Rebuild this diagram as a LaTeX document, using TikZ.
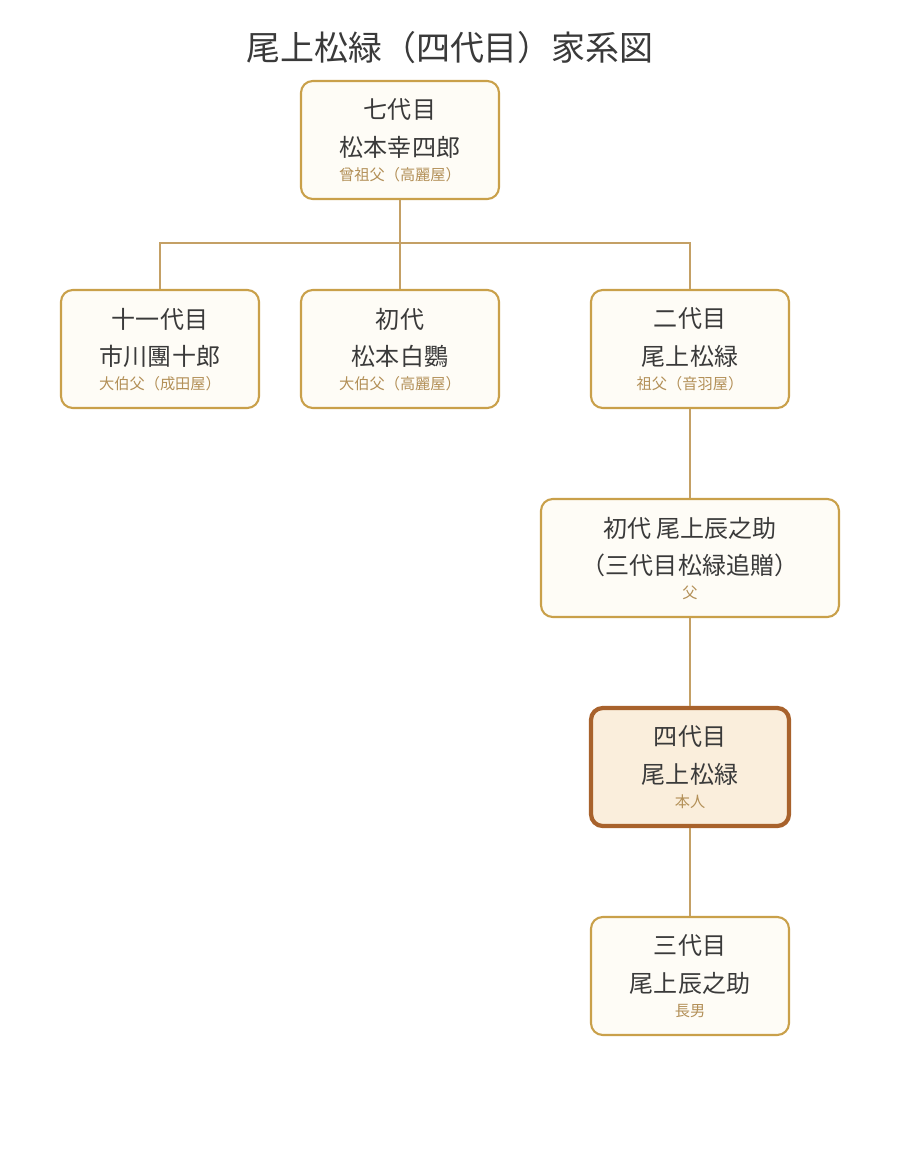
\documentclass[tikz,border=0pt]{standalone}
\usepackage{fontspec}
\setmainfont{Noto Sans CJK JP}
\definecolor{rim}{HTML}{C9A04A}
\definecolor{wire}{HTML}{C4A065}
\definecolor{pale}{HTML}{FEFCF6}
\definecolor{subtext}{HTML}{B39058}
\definecolor{ink}{HTML}{3A3A3A}
\definecolor{selfrim}{HTML}{A8622C}
\definecolor{selffill}{HTML}{FAEEDC}
\newcommand{\person}[6]{%
  \node[#6] (#1) at (#2) {};
  \node[main] (#1a) at ([yshift=0.9cm]#1.center) {#3};
  \node[main] (#1b) at ([yshift=-0.21cm]#1.center) {#4};
  \node[sub] (#1c) at ([yshift=-1.05cm]#1.center) {#5};
}
\begin{document}
\begin{tikzpicture}[x=0.03cm, y=-0.03cm]
        \tikzstyle{box}=[draw=rim, line width=1.8pt, fill=pale, rounded corners=10pt,
          minimum width=198*0.03cm, minimum height=118*0.03cm];
        \tikzstyle{widebox}=[box, minimum width=298*0.03cm];
        \tikzstyle{selfbox}=[box, draw=selfrim, line width=3.6pt, fill=selffill];
        \tikzstyle{main}=[text=ink, font=\fontsize{20.5}{20.5}\selectfont, inner sep=0];
        \tikzstyle{sub}=[text=subtext, font=\fontsize{13}{13}\selectfont, inner sep=0];
        \tikzstyle{link}=[draw=wire, line width=1.8pt];
        \useasboundingbox (0,0) rectangle (900,1155);

        % title
        \node[text=ink, font=\fontsize{29}{29}\selectfont] (title) at (450,48) {尾上松緑（四代目）家系図};

        % people
        \person{k7}{400,140}{七代目}{松本幸四郎}{曾祖父（高麗屋）}{box}
        \person{d11}{160,349}{十一代目}{市川團十郎}{大伯父（成田屋）}{box}
        \person{h1}{400,349}{初代}{松本白鸚}{大伯父（高麗屋）}{box}
        \person{s2}{690,349}{二代目}{尾上松緑}{祖父（音羽屋）}{box}
        \person{t1}{690,558}{初代 尾上辰之助}{（三代目松緑追贈）}{父}{widebox}
        \person{s4}{690,767}{四代目}{尾上松緑}{本人}{selfbox}
        \person{t3}{690,976}{三代目}{尾上辰之助}{長男}{box}

        % lines
        \coordinate (fork) at (400,243);
        \draw[link] (k7.south) -- (fork);
        \draw[link] (d11.north) |- (fork) -| (s2.north);
        \draw[link] (fork) -- (h1.north);
        \draw[link] (s2.south) -- (t1.north);
        \draw[link] (t1.south) -- (s4.north);
        \draw[link] (s4.south) -- (t3.north);
\end{tikzpicture}
\end{document}
